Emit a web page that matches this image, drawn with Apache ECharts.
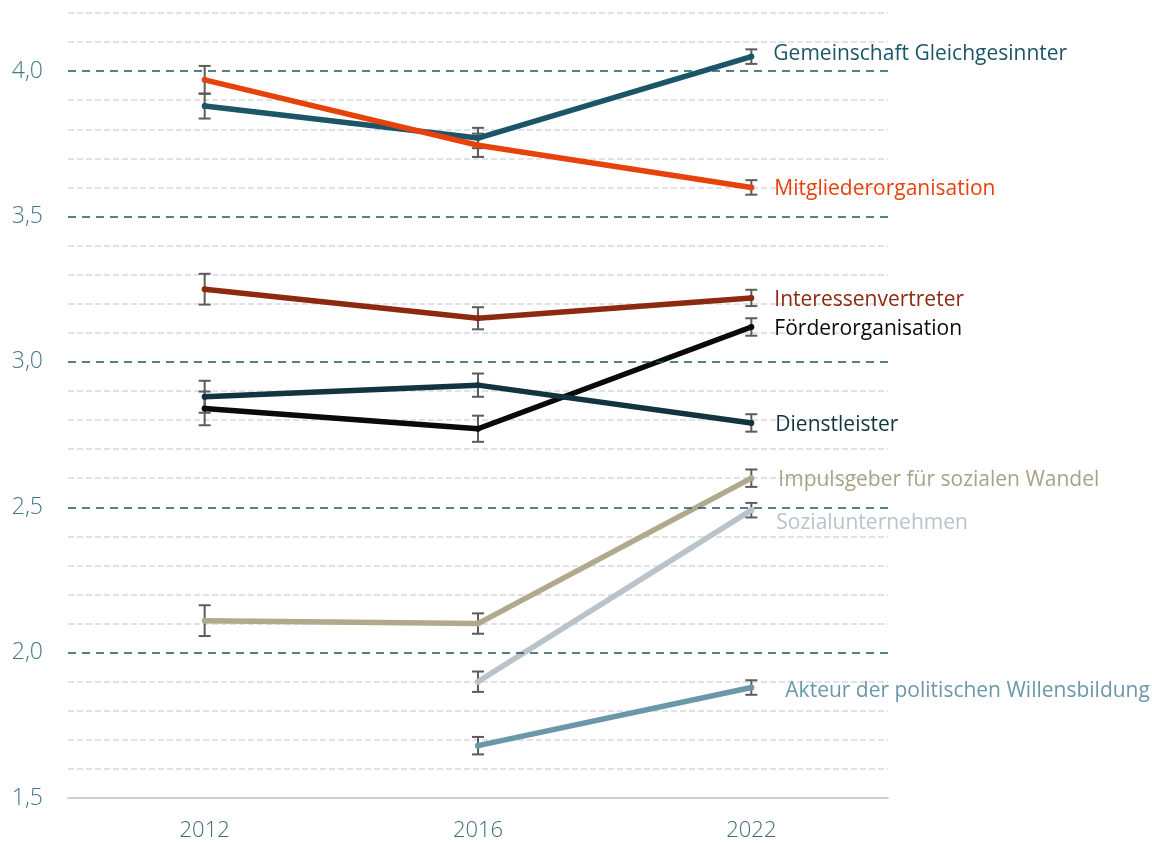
<!DOCTYPE html>
<html><head><meta charset="utf-8">
<script src="https://cdn.jsdelivr.net/npm/echarts@6/dist/echarts.min.js"></script>
<style>html,body{margin:0;padding:0;background:#fff}#c{width:1152px;height:843px}</style>
</head><body><div id="c"></div>
<script>
const years = ['2012', '2016', '2022'];
const names = ['Gemeinschaft Gleichgesinnter', 'Mitgliederorganisation', 'Interessenvertreter', 'Förderorganisation', 'Dienstleister', 'Impulsgeber für sozialen Wandel', 'Sozialunternehmen', 'Akteur der politischen Willensbildung'];
const gemeinschaft = [3.88, 3.77, 4.05];
const mitglieder = [3.97, 3.745, 3.60];
const interessen = [3.25, 3.15, 3.22];
const foerder = [2.84, 2.77, 3.12];
const dienst = [2.88, 2.92, 2.79];
const impuls = [2.11, 2.10, 2.60];
const sozial = [null, 1.90, 2.49];
const akteur = [null, 1.68, 1.88];
// half-widths of error bars
const errGemeinschaft = [0.043, 0.035, 0.025];
const errMitglieder = [0.048, 0.04, 0.025];
const errInteressen = [0.053, 0.038, 0.028];
const errFoerder = [0.058, 0.045, 0.03];
const errDienst = [0.055, 0.04, 0.03];
const errImpuls = [0.053, 0.035, 0.03];
const errSozial = [null, 0.035, 0.025];
const errAkteur = [null, 0.03, 0.025];
const majorTicks = [2.0, 2.5, 3.0, 3.5, 4.0];

const values = [gemeinschaft, mitglieder, interessen, foerder, dienst, impuls, sozial, akteur];
const errs = [errGemeinschaft, errMitglieder, errInteressen, errFoerder, errDienst, errImpuls, errSozial, errAkteur];
const colors = ['#1b5568', '#e8420c', '#8b2a0e', '#0a0a0a', '#12343f', '#b0a98b', '#b9c3c9', '#6a98a9'];
const labelColors = ['#1b5568', '#e8420c', '#8b2a0e', '#0a0a0a', '#12343f', '#aaa286', '#b9c3c9', '#6a98a9'];
const labelOffsets = [[22, -3], [23, 2], [23, 2], [23, 2], [24, 2], [27, 2], [25, 13], [34, 3]];

const errData = [];
values.forEach((v, s) => v.forEach((val, i) => {
  if (val != null) errData.push([i, val - errs[s][i], val + errs[s][i]]);
}));

const FONT = 'Open Sans';
const series = [{
  type: 'custom',
  z: 1,
  data: errData,
  renderItem: function (params, api) {
    const lo = api.coord([api.value(0), api.value(1)]);
    const hi = api.coord([api.value(0), api.value(2)]);
    const w = 6;
    const st = { stroke: '#5c5c5c', lineWidth: 2 };
    return { type: 'group', children: [
      { type: 'line', shape: { x1: lo[0], y1: lo[1], x2: hi[0], y2: hi[1] }, style: st },
      { type: 'line', shape: { x1: lo[0] - w, y1: lo[1], x2: lo[0] + w, y2: lo[1] }, style: st },
      { type: 'line', shape: { x1: hi[0] - w, y1: hi[1], x2: hi[0] + w, y2: hi[1] }, style: st }
    ] };
  },
  silent: true
}, {
  type: 'line',
  data: [],
  silent: true,
  markLine: {
    silent: true, symbol: 'none', label: { show: false },
    lineStyle: { color: '#1d5566', type: [8, 6], width: 1.6 },
    data: majorTicks.map(v => ({ yAxis: v }))
  }
}];
values.forEach((v, s) => {
  series.push({
    name: names[s],
    type: 'line',
    z: 3,
    data: v,
    symbol: 'circle',
    symbolSize: 6,
    showSymbol: true,
    itemStyle: { color: colors[s] },
    lineStyle: { color: colors[s], width: 5.5, cap: 'round', join: 'round' },
    connectNulls: false,
    endLabel: {
      show: true,
      formatter: names[s],
      color: labelColors[s],
      fontFamily: FONT,
      fontSize: 21,
      distance: 0,
      offset: labelOffsets[s],
      align: 'left',
      verticalAlign: 'middle'
    },
    emphasis: { disabled: true }
  });
});

const chart = echarts.init(document.getElementById('c'), null, { renderer: 'canvas' });
chart.setOption({
  animation: false,
  grid: { left: 68, right: 264, top: 13, bottom: 45, containLabel: false },
  xAxis: {
    type: 'category',
    data: years,
    boundaryGap: true,
    axisLine: { show: true, lineStyle: { color: '#d0d0d0', width: 2 } },
    axisTick: { show: false },
    axisLabel: { color: '#3e6b7b', fontFamily: FONT, fontWeight: 300, fontSize: 22, margin: 22 },
    splitLine: { show: false }
  },
  yAxis: {
    type: 'value',
    min: 1.5,
    max: 4.2,
    interval: 0.1,
    axisLine: { show: false },
    axisTick: { show: false },
    axisLabel: {
      color: '#44768a', fontFamily: FONT, fontWeight: 300, fontSize: 23, margin: 25,
      formatter: function (v) {
        const r = Math.round(v * 2);
        if (Math.abs(v * 2 - r) > 1e-6) return '';
        return (r / 2).toFixed(1).replace('.', ',');
      }
    },
    splitLine: {
      show: true,
      lineStyle: {
        color: ['rgba(0,0,0,0)', '#d6d9dd', '#d6d9dd', '#d6d9dd', '#d6d9dd'],
        type: [6, 3], width: 1.6
      }
    }
  },
  series: series
});
</script></body></html>
